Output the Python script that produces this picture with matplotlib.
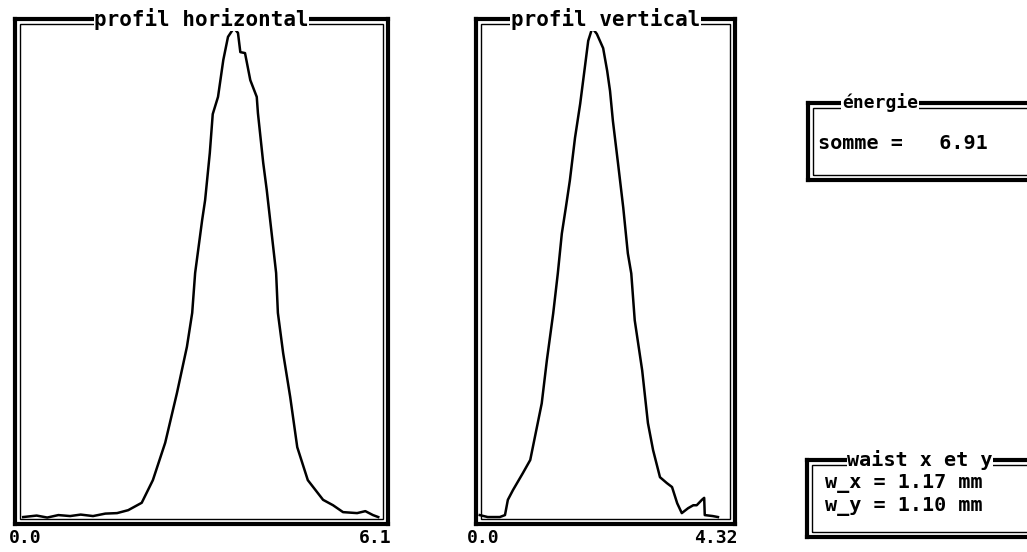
import matplotlib
matplotlib.use('Agg')
import matplotlib.pyplot as plt
from matplotlib.patches import Rectangle

# profil horizontal (mm, intensite relative)
hx = [0.02, 0.25, 0.43, 0.62, 0.82, 1.0, 1.21, 1.42, 1.62, 1.81, 2.04, 2.23, 2.44, 2.64,
      2.81, 2.90, 2.95, 3.07, 3.12, 3.20, 3.25, 3.34, 3.43, 3.51, 3.61, 3.68, 3.72,
      3.80, 3.89, 4.00, 4.02, 4.11, 4.17, 4.28, 4.33, 4.36, 4.45, 4.57, 4.69, 4.87,
      5.13, 5.30, 5.47, 5.71, 5.85, 5.98, 6.07]
hy = [0.6, 0.9, 0.5, 1.0, 0.8, 1.1, 0.8, 1.3, 1.4, 2.0, 3.5, 8.1, 15.7, 25.8,
      35.2, 42.1, 50.2, 61.0, 65.0, 74.6, 82.5, 86.0, 93.5, 98.2, 100.0, 99.0, 95.1,
      94.9, 89.4, 86.0, 82.7, 72.6, 67.1, 55.5, 50.2, 42.1, 33.9, 25.0, 14.8, 8.1,
      4.1, 3.0, 1.6, 1.4, 1.8, 1.0, 0.6]

# profil vertical
vx = [0.03, 0.17, 0.38, 0.47, 0.52, 0.61, 0.78, 0.91, 0.99, 1.11, 1.20, 1.31, 1.39,
      1.46, 1.53, 1.60, 1.69, 1.78, 1.86, 1.92, 1.99, 2.07, 2.18, 2.25, 2.30, 2.35,
      2.44, 2.53, 2.61, 2.67, 2.73, 2.86, 2.96, 3.05, 3.17, 3.29, 3.38, 3.47, 3.55,
      3.66, 3.75, 3.81, 3.90, 3.94, 3.95, 4.09, 4.18]
vy = [1.0, 0.6, 0.6, 1.0, 4.1, 6.1, 9.5, 12.2, 16.8, 23.7, 32.5, 42.0, 50.1,
      58.2, 63.5, 69.0, 77.7, 84.6, 91.9, 97.4, 100.0, 98.8, 95.9, 91.3, 87.2, 81.1,
      72.4, 63.5, 54.2, 50.1, 40.6, 30.4, 19.7, 14.2, 8.7, 7.5, 6.7, 3.4, 1.4,
      2.4, 3.0, 3.0, 4.1, 4.5, 1.0, 0.8, 0.6]

titres = ['profil horizontal', 'profil vertical']
xmax = [6.1, 4.32]
xlabels = [('0.0', '6.1'), ('0.0', '4.32')]
somme = 6.91
w_x, w_y = 1.17, 1.10

W, H = 1027, 552
FONT = dict(family='DejaVu Sans Mono', weight='bold', color='black')


def px_axes(fig, x0, y0, x1, y1):
    return fig.add_axes([x0 / W, 1 - y1 / H, (x1 - x0) / W, (y1 - y0) / H])


def cadre(ax, x0, y0, x1, y1):
    # double trait: gros trait exterieur + trait fin interieur
    for s in ax.spines.values():
        s.set_linewidth(3)
    dx, dy = 5 / (x1 - x0), 5 / (y1 - y0)
    ax.add_patch(Rectangle((dx, dy), 1 - 2 * dx, 1 - 2 * dy, transform=ax.transAxes,
                           fill=False, lw=1, color='black', clip_on=False))
    ax.set_xticks([])
    ax.set_yticks([])


fig = plt.figure(figsize=(W / 100, H / 100), dpi=100)

# panneaux des profils
boites = [(15, 19, 388, 524), (476, 19, 735, 524)]
x_px = [(22, 380), (478, 726)]
lab_px = [9, 467]
donnees = [(hx, hy), (vx, vy)]
for i in range(2):
    x0, y0, x1, y1 = boites[i]
    ax = px_axes(fig, x0, y0, x1, y1)
    a, b = x_px[i]
    k = xmax[i] / (b - a)
    ax.set_xlim((x0 - a) * k, (x1 - a) * k)
    ax.set_ylim((520 - y1) / 4.92, (520 - y0) / 4.92)
    ax.plot(donnees[i][0], donnees[i][1], color='black', lw=1.8)
    cadre(ax, x0, y0, x1, y1)
    ax.text(0.5, 1.0, titres[i], transform=ax.transAxes, ha='center', va='center',
            fontsize=15, bbox=dict(fc='white', ec='none', pad=0.5), **FONT)
    yl = 1 - (538 - y0) / (y1 - y0)
    ax.text((lab_px[i] - x0) / (x1 - x0), yl, xlabels[i][0], transform=ax.transAxes,
            ha='left', va='center', fontsize=13, **FONT)
    ax.text(1.01, yl, xlabels[i][1], transform=ax.transAxes, ha='right',
            va='center', fontsize=13, **FONT)

# boite energie
ax = px_axes(fig, 808, 103, 1045, 180)
cadre(ax, 808, 103, 1045, 180)
ax.text(72 / 237, 1.0, 'énergie', transform=ax.transAxes, ha='center', va='center',
        fontsize=13, bbox=dict(fc='white', ec='none', pad=0.5), **FONT)
ax.text(10 / 237, 0.47, 'somme =   %.2f' % somme, transform=ax.transAxes, ha='left',
        va='center', fontsize=14.5, **FONT)

# boite waist
ax = px_axes(fig, 807, 460, 1045, 537)
cadre(ax, 807, 460, 1045, 537)
ax.text(113 / 238, 1.0, 'waist x et y', transform=ax.transAxes, ha='center', va='center',
        fontsize=14.5, bbox=dict(fc='white', ec='none', pad=0.5), **FONT)
ax.text(18 / 238, 0.70, 'w_x = %.2f mm' % w_x, transform=ax.transAxes, ha='left',
        va='center', fontsize=14.5, **FONT)
ax.text(18 / 238, 0.39, 'w_y = %.2f mm' % w_y, transform=ax.transAxes, ha='left',
        va='center', fontsize=14.5, **FONT)

fig.savefig('out.png', dpi=100)
